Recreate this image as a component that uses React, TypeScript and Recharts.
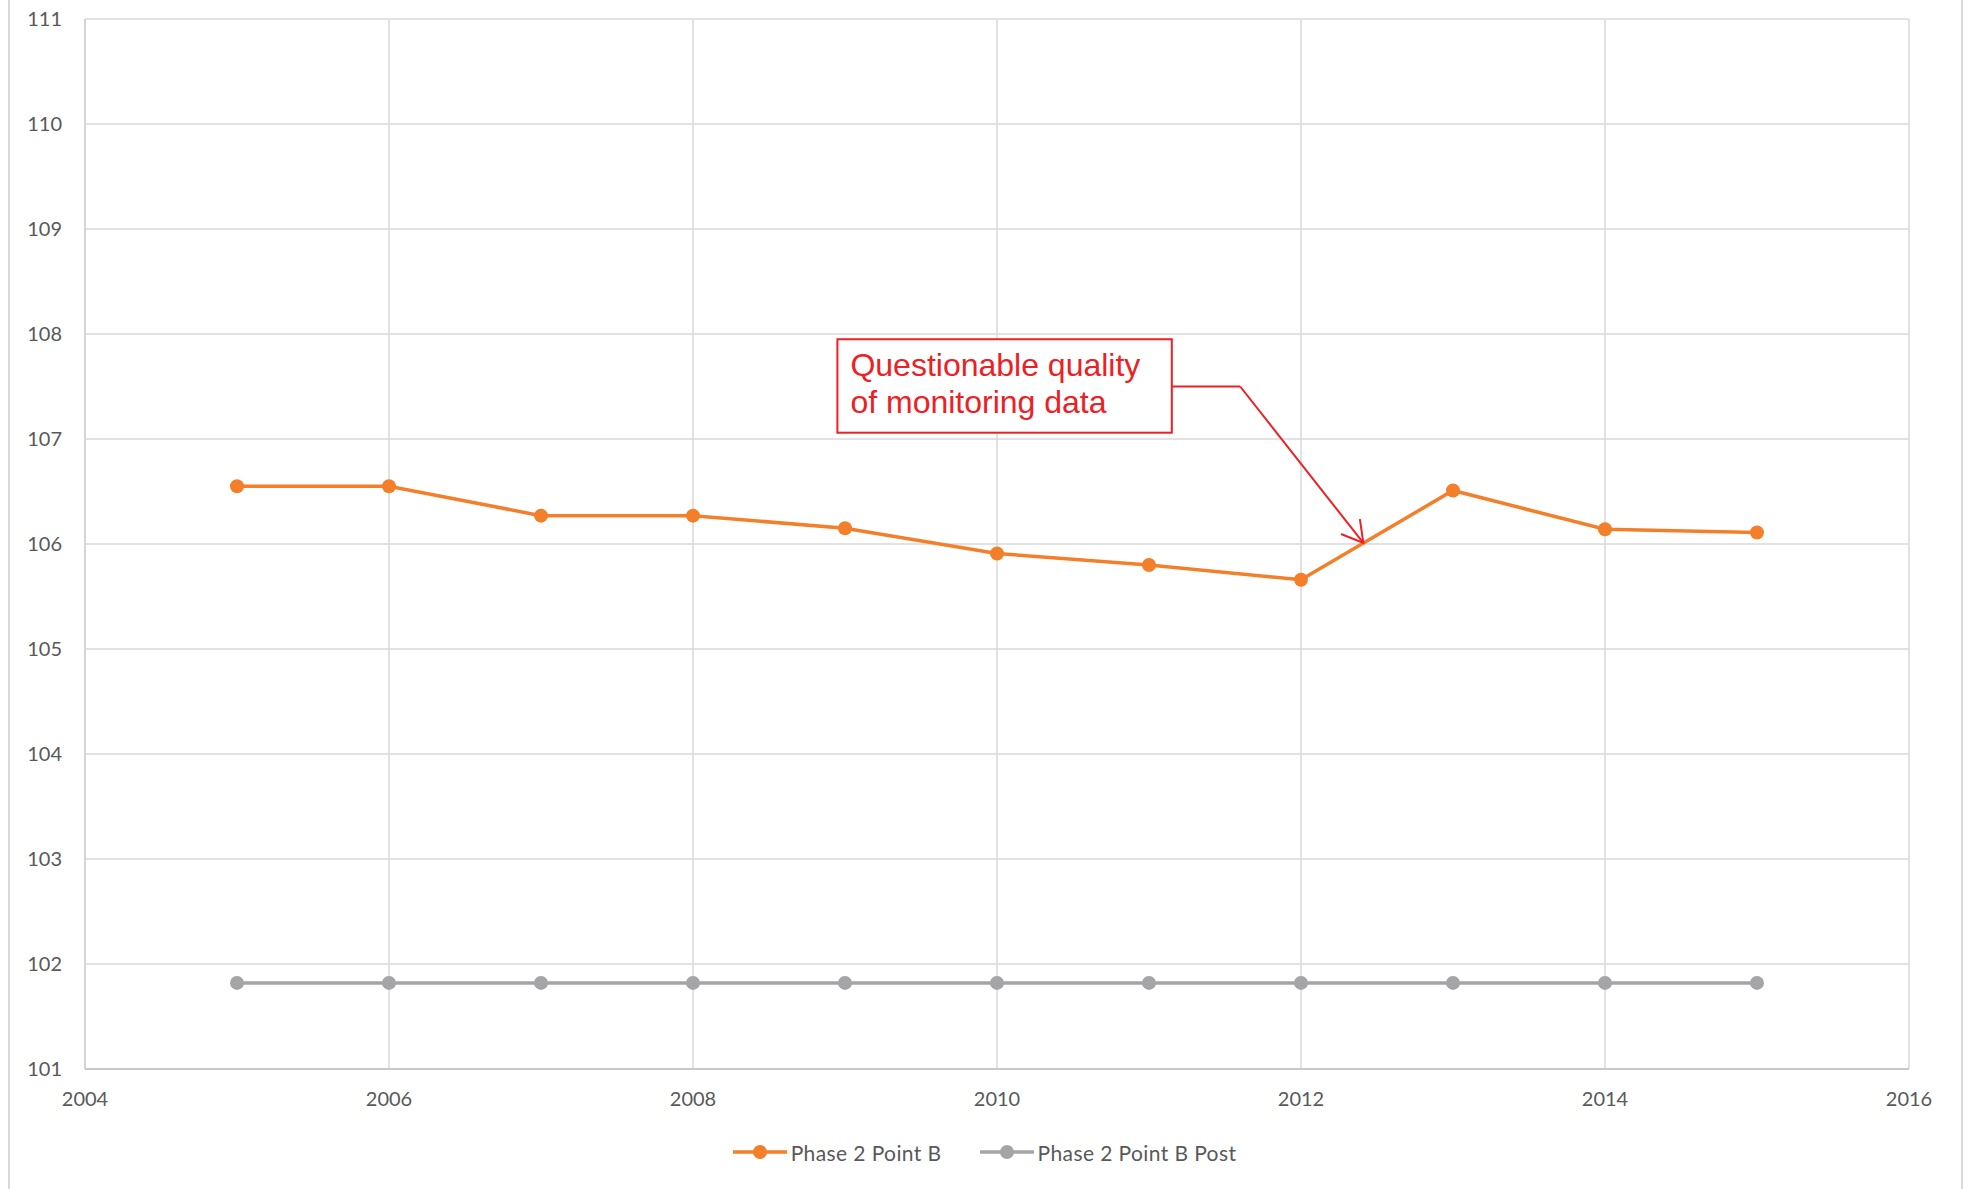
import React from 'react';
import {
  LineChart,
  Line,
  XAxis,
  YAxis,
  CartesianGrid,
  Legend,
  ReferenceArea,
  ReferenceLine,
} from 'recharts';

const years = [2005, 2006, 2007, 2008, 2009, 2010, 2011, 2012, 2013, 2014, 2015];
const pointB = [106.55, 106.55, 106.27, 106.27, 106.15, 105.91, 105.8, 105.66, 106.51, 106.14, 106.11];
const pointBPost = [101.82, 101.82, 101.82, 101.82, 101.82, 101.82, 101.82, 101.82, 101.82, 101.82, 101.82];

const yearTicks = [2004, 2006, 2008, 2010, 2012, 2014, 2016];
const levelTicks = [101, 102, 103, 104, 105, 106, 107, 108, 109, 110, 111];

const seriesNames = ['Phase 2 Point B', 'Phase 2 Point B Post'];

// callout text and where it sits, in axis units
const calloutLines = ['Questionable quality', 'of monitoring data'];
const calloutBox = { x1: 2008.95, x2: 2011.15, y1: 107.06, y2: 107.95 };
const calloutElbow = { x: 2011.6, y: 107.5 };
const calloutTarget = { x: 2012.41, y: 106.01 };

const data = years.map((year, i) => ({
  year,
  pointB: pointB[i],
  pointBPost: pointBPost[i],
}));

const ORANGE = '#F47F2A';
const GRAY = '#A5A5A8';
const RED = '#ED2024';
const TEXT = '#595959';
const FONT = 'Lato, "Open Sans", sans-serif';

const CalloutBox = (props: any) => {
  const { x, y, width, height } = props;
  return (
    <g>
      <rect x={x} y={y} width={width} height={height} fill="#fff" stroke={RED} strokeWidth={2} />
      <text x={x + 13} y={y + 37} fill={RED} fontSize={32} fontFamily='"Liberation Sans", Arial, sans-serif'>
        {calloutLines.map((line, i) => (
          <tspan key={line} x={x + 13} dy={i === 0 ? 0 : 37}>
            {line}
          </tspan>
        ))}
      </text>
    </g>
  );
};

const Leader = (props: any) => {
  const { x1, y1, x2, y2 } = props;
  return <line x1={x1} y1={y1} x2={x2} y2={y2} stroke={RED} strokeWidth={2} />;
};

// leader with an open arrowhead at its end
const Arrow = (props: any) => {
  const { x1, y1, x2, y2 } = props;
  const back = Math.atan2(y1 - y2, x1 - x2);
  const len = 24;
  const spread = Math.PI / 6;
  const a1 = { x: x2 + len * Math.cos(back - spread), y: y2 + len * Math.sin(back - spread) };
  const a2 = { x: x2 + len * Math.cos(back + spread), y: y2 + len * Math.sin(back + spread) };
  return (
    <g stroke={RED} strokeWidth={2} fill="none">
      <line x1={x1} y1={y1} x2={x2} y2={y2} />
      <polyline points={`${a1.x},${a1.y} ${x2},${y2} ${a2.x},${a2.y}`} />
    </g>
  );
};

const LegendContent = () => {
  const colors = [ORANGE, GRAY];
  return (
    <div
      style={{
        display: 'flex',
        justifyContent: 'center',
        alignItems: 'center',
        height: 24,
        fontFamily: FONT,
        fontSize: 21,
        letterSpacing: 0.4,
        color: TEXT,
      }}
    >
      {seriesNames.map((name, i) => (
        <div key={name} style={{ display: 'flex', alignItems: 'center', marginRight: i === 0 ? 38 : 0 }}>
          <svg width={54} height={16} style={{ marginRight: 4 }}>
            <line x1={0} y1={8} x2={54} y2={8} stroke={colors[i]} strokeWidth={3.5} />
            <circle cx={27} cy={8} r={7} fill={colors[i]} />
          </svg>
          <span>{name}</span>
        </div>
      ))}
    </div>
  );
};

const App = () => {
  return (
    <div style={{ position: 'absolute', left: 0, top: 0, width: 1969, height: 1189, background: '#fff' }}>
      <div style={{ position: 'absolute', left: 8, top: 0, width: 0, height: 1189, borderLeft: '2px solid #D9D9D9' }} />
      <div style={{ position: 'absolute', left: 1961, top: 0, width: 0, height: 1189, borderLeft: '2px solid #D9D9D9' }} />
      <LineChart width={1969} height={1189} data={data} margin={{ top: 19, right: 60, bottom: 0, left: 0 }}>
        <CartesianGrid stroke="#D9D9D9" strokeWidth={1.5} />
        <XAxis
          type="number"
          dataKey="year"
          domain={[2004, 2016]}
          ticks={yearTicks}
          height={120}
          tickLine={false}
          axisLine={{ stroke: '#BFBFBF', strokeWidth: 1.5 }}
          tickMargin={17}
          tick={{ fill: TEXT, fontSize: 20, fontFamily: FONT }}
        />
        <YAxis
          domain={[101, 111]}
          ticks={levelTicks}
          width={85}
          tickLine={false}
          axisLine={{ stroke: '#D0D0D0', strokeWidth: 1.5 }}
          tickMargin={17}
          tick={{ fill: TEXT, fontSize: 20, fontFamily: FONT }}
        />
        <Legend
          layout="horizontal"
          verticalAlign="middle"
          align="center"
          wrapperStyle={{ top: 1140, left: 0, width: 1969 }}
          content={LegendContent}
        />
        <Line
          dataKey="pointBPost"
          name={seriesNames[1]}
          stroke={GRAY}
          strokeWidth={3.5}
          dot={{ r: 7, fill: GRAY, stroke: 'none' }}
          activeDot={false}
          isAnimationActive={false}
        />
        <Line
          dataKey="pointB"
          name={seriesNames[0]}
          stroke={ORANGE}
          strokeWidth={3.5}
          dot={{ r: 7, fill: ORANGE, stroke: 'none' }}
          activeDot={false}
          isAnimationActive={false}
        />
        <ReferenceArea
          x1={calloutBox.x1}
          x2={calloutBox.x2}
          y1={calloutBox.y1}
          y2={calloutBox.y2}
          shape={CalloutBox}
        />
        <ReferenceLine
          segment={[
            { x: calloutBox.x2, y: calloutElbow.y },
            { x: calloutElbow.x, y: calloutElbow.y },
          ]}
          shape={Leader}
        />
        <ReferenceLine
          segment={[
            { x: calloutElbow.x, y: calloutElbow.y },
            { x: calloutTarget.x, y: calloutTarget.y },
          ]}
          shape={Arrow}
        />
      </LineChart>
    </div>
  );
};

export default App;
